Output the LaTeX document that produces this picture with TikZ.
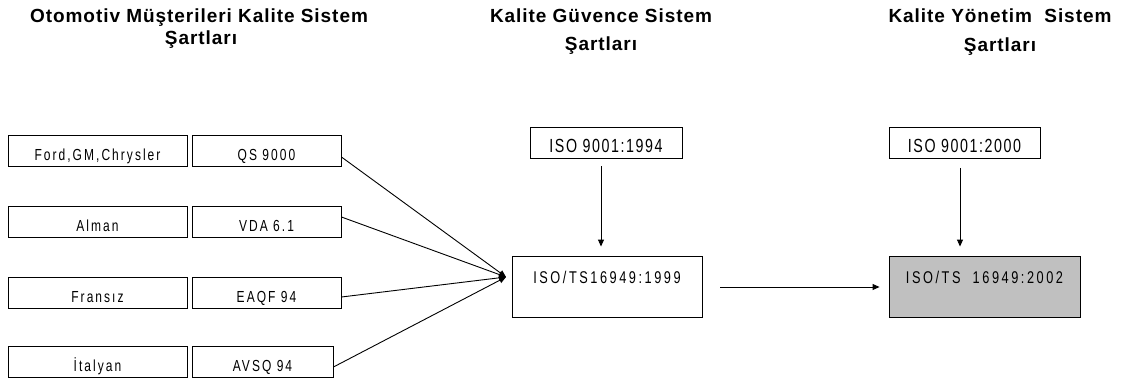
\documentclass[tikz,border=0pt]{standalone}
\usepackage{fontspec}
\usepackage{graphicx}
\setmainfont{Liberation Sans}
\usetikzlibrary{arrows.meta}
\newcommand\nar[1]{\scalebox{0.75}[1]{#1}}
\tikzset{
  box/.style={draw, line width=0.9pt, inner sep=0pt},
  lft/.style={box, minimum height=31pt, text height=18pt, text depth=0pt, font=\fontsize{16}{18}\selectfont\addfontfeature{LetterSpace=17}},
  isobox/.style={box, minimum height=31pt, text height=19pt, text depth=0pt, font=\fontsize{19}{21}\selectfont\addfontfeature{LetterSpace=11}},
  tsbox/.style={box, minimum width=190pt, minimum height=61pt, text height=0pt, text depth=7pt, font=\fontsize{17}{19}\selectfont\addfontfeature{LetterSpace=20}},
  ttl/.style={font=\fontsize{19}{23}\selectfont\bfseries\addfontfeature{LetterSpace=5}, inner sep=0pt, anchor=base},
  arr/.style={line width=0.9pt, -{Triangle[length=7pt,width=6pt]}}
}
\begin{document}
\begin{tikzpicture}[x=1pt,y=-1pt]
\useasboundingbox (0,0) rectangle (1124,380);
% titles
\node[ttl] (t1a) at (199,23) {Otomotiv Müşterileri Kalite Sistem};
\node[ttl] (t1b) at (201,44) {Şartları};
\node[ttl] (t2a) at (601,23) {Kalite Güvence Sistem};
\node[ttl] (t2b) at (601,50) {Şartları};
\node[ttl] (t3a) at (1000,23) {Kalite Yönetim\ \ Sistem};
\node[ttl] (t3b) at (1000,51) {Şartları};
% left column
\node[lft, minimum width=179pt] (a1) at (97.5,151) {\nar{Ford,GM,Chrysler}};
\node[lft, minimum width=149pt] (b1) at (266.5,151) {\nar{QS 9000}};
\node[lft, minimum width=179pt] (a2) at (97.5,222) {\nar{Alman}};
\node[lft, minimum width=149pt] (b2) at (266.5,222) {\nar{VDA 6.1}};
\node[lft, minimum width=179pt] (a3) at (97.5,293) {\nar{Fransız}};
\node[lft, minimum width=149pt] (b3) at (266.5,293) {\nar{EAQF 94}};
\node[lft, minimum width=179pt] (a4) at (97.5,362) {\nar{İtalyan}};
\node[lft, minimum width=141pt] (b4) at (262.5,362) {\nar{AVSQ 94}};
% middle
\node[isobox, minimum width=152pt] (m1) at (606,142.5) {\nar{ISO 9001:1994}};
\node[tsbox] (m2) at (607,286.5) {\nar{ISO/TS16949:1999}};
\coordinate (c) at (506,277);
% right
\node[isobox, minimum width=151pt] (r1) at (964.5,143) {\nar{ISO 9001:2000}};
\node[tsbox, minimum width=191pt, fill={rgb,255:red,192;green,192;blue,192}] (r2) at (984.5,286.5) {\nar{ISO/TS\ \ 16949:2002}};
% connectors
\draw[arr] ([yshift=-6pt]b1.east) -- (c);
\draw[arr] ([yshift=5pt]b2.east) -- (c);
\draw[arr] ([yshift=-4pt]b3.east) -- (c);
\draw[arr] ([yshift=-5pt]b4.east) -- (c);
\draw[arr] ([yshift=-8pt]m1.south -| 601,0) -- ([yshift=9pt]m2.north -| 601,0);
\draw[arr] ([yshift=-9pt]r1.south -| 960,0) -- ([yshift=9pt]r2.north -| 960,0);
\draw[arr] ([xshift=18pt,yshift=-0.5pt]m2.east) -- ([xshift=-9pt,yshift=-0.5pt]r2.west);
\end{tikzpicture}
\end{document}
